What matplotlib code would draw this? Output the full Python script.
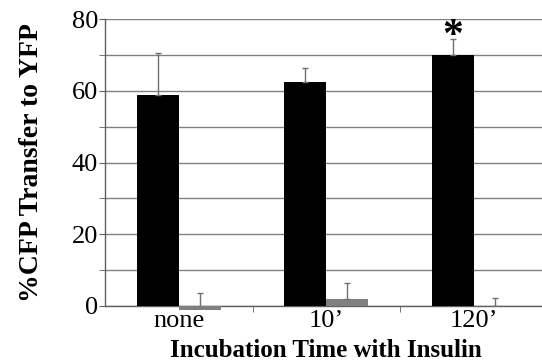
import matplotlib.pyplot as plt
import numpy as np

plt.rcParams.update({"font.family": ["Liberation Serif", "DejaVu Serif"]})

categories = ["none", "10\u2019", "120\u2019"]
cfp_yfp = [58.9, 62.5, 70.0]
cfp_yfp_err = [11.7, 3.9, 4.3]
control = [-1.0, 1.9, 0.1]
control_err = [4.6, 4.4, 2.0]
yticks = [0, 20, 40, 60, 80]

fig = plt.figure(figsize=(5.42, 3.64), dpi=100)
ax = fig.add_axes([105 / 542, 1 - 306 / 364, 442.5 / 542, 287 / 364])

x = np.arange(len(categories))
w = 0.285
ax.bar(x - w / 2, cfp_yfp, width=w, color="black", zorder=3)
ax.bar(x + w / 2, control, width=w, color="#808080", zorder=3, clip_on=False)
ax.errorbar(x - w / 2, cfp_yfp, yerr=[np.zeros(3), cfp_yfp_err], fmt="none",
            ecolor="#707070", elinewidth=1, capsize=2, capthick=1, zorder=4)
ax.errorbar(x + w / 2, control, yerr=[np.zeros(3), control_err], fmt="none",
            ecolor="#707070", elinewidth=1, capsize=2, capthick=1, zorder=4)

ax.text(x[2] - w / 2, 75.0, "*", ha="center", va="center",
        fontsize=30, fontweight="bold")

ax.set_xlim(-0.5, 2.5)
ax.set_ylim(0, 80)
ax.set_yticks(yticks)
ax.set_yticks(np.arange(0, 81, 10), minor=True)
ax.yaxis.grid(True, which="both", color="#808080", linewidth=1, zorder=0)
ax.tick_params(axis="y", which="both", direction="out", length=4, color="#606060",
               labelsize=19, pad=1)
ax.set_xticks(x)
ax.set_xticklabels(categories, fontsize=19)
ax.tick_params(axis="x", which="major", length=0, pad=3)
ax.set_xticks([0.5, 1.5], minor=True)
ax.tick_params(axis="x", which="minor", direction="out", length=4, color="#606060")

for s in ["top", "right"]:
    ax.spines[s].set_visible(False)
for s in ["left", "bottom"]:
    ax.spines[s].set_color("#606060")
    ax.spines[s].set_linewidth(1)

ax.set_ylabel("%CFP Transfer to YFP", fontsize=20, fontweight="bold", labelpad=20)
ax.set_xlabel("Incubation Time with Insulin", fontsize=18, fontweight="bold", labelpad=5)

fig.savefig("out.png", dpi=100)
